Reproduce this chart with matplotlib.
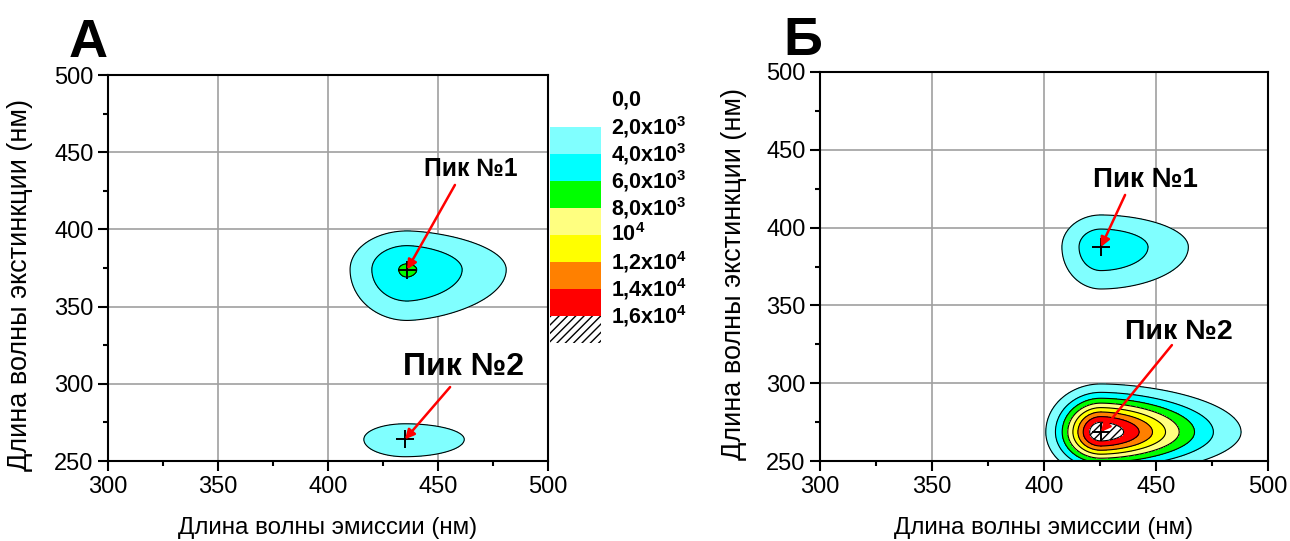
import numpy as np
import matplotlib
matplotlib.use("Agg")
import matplotlib.pyplot as plt
from matplotlib.ticker import MultipleLocator

plt.rcParams['font.family'] = ['Liberation Sans', 'DejaVu Sans']
plt.rcParams['mathtext.fontset'] = 'custom'
plt.rcParams['mathtext.rm'] = 'Liberation Sans:bold'
plt.rcParams['mathtext.bf'] = 'Liberation Sans:bold'
plt.rcParams['mathtext.default'] = 'bf'
plt.rcParams['hatch.linewidth'] = 1.0

# Fluorescence intensity levels and their fill colours
levels = [2000, 4000, 6000, 8000, 10000, 12000, 14000, 16000]
fill_colors = ['#80FFFF', '#00FFFF', '#00FF00', '#FFFF80', '#FFFF00', '#FF8000', '#FF0000', 'white']
scale_labels = ['0,0', '2,0x10$^3$', '4,0x10$^3$', '6,0x10$^3$', '8,0x10$^3$',
                '10$^4$', '1,2x10$^4$', '1,4x10$^4$', '1,6x10$^4$']

# Peak descriptions (emission nm, excitation nm, intensity, widths in nm,
# decay exponent of the long-wavelength emission side)
a_peak_em = [436, 435]
a_peak_ex = [374, 264]
a_peak_int = [6150, 3500]
a_width_left = [24.5, 25.0]
a_width_right = [41.9, 36.0]
a_right_exp = [1.63, 2.0]
a_width_up = [23.6, 13.5]
a_width_down = [31.1, 15.0]

b_peak_em = [425.4, 425.4]
b_peak_ex = [387.5, 268.6]
b_peak_int = [5500, 17500]
b_width_left = [17.3, 16.7]
b_width_right = [38.8, 40.2]
b_right_exp = [1.87, 1.75]
b_width_up = [20.5, 21.0]
b_width_down = [26.8, 19.0]

peak_names = ['Пик №1', 'Пик №2']
a_label_xy = [(465.0, 438.8), (461.4, 310.6)]
a_arrow_from = [(457.7, 428.8), (455.5, 297.9)]
a_label_size = [17.8, 23]
b_label_xy = [(445.5, 430.3), (460.3, 332.6)]
b_arrow_from = [(436.2, 421.0), (457.1, 324.5)]
b_label_size = [20, 20.5]

em = np.linspace(300, 500, 801)
ex = np.linspace(235, 500, 1061)
EM, EX = np.meshgrid(em, ex)


def surface(cx, cy, amp, wl, wr, pr, wu, wd):
    z = np.zeros_like(EM)
    for i in range(len(cx)):
        dx = EM - cx[i]
        dy = EX - cy[i]
        u2 = np.where(dx < 0, (dx / wl[i]) ** 2,
                      np.abs(dx / wr[i]) ** pr[i])
        sy = np.where(dy < 0, wd[i], wu[i])
        z += amp[i] * np.exp(-(u2 + (dy / sy) ** 2))
    return z


def style_axes(ax):
    ax.set_xlim(300, 500)
    ax.set_ylim(250, 500)
    ax.xaxis.set_major_locator(MultipleLocator(50))
    ax.xaxis.set_minor_locator(MultipleLocator(25))
    ax.yaxis.set_major_locator(MultipleLocator(50))
    ax.yaxis.set_minor_locator(MultipleLocator(25))
    ax.grid(True, which='major', color='#a0a0a0', lw=1.2)
    ax.set_axisbelow(True)
    for s in ax.spines.values():
        s.set_linewidth(1.5)
        s.set_zorder(5)
    ax.tick_params(which='major', direction='out', length=7, width=1.5,
                   labelsize=17, pad=3.5)
    ax.tick_params(which='minor', direction='out', length=3.5, width=1.5)
    ax.set_xlabel('Длина волны эмиссии (нм)', fontsize=17.4, labelpad=14)
    ax.set_ylabel('Длина волны экстинкции (нм)', fontsize=19.5)


def draw_map(ax, z, cx, cy, label_xy, arrow_from, sizes):
    ax.contourf(EM, EX, z, levels=levels + [1e9], colors=fill_colors,
                hatches=[None] * 7 + ['////'])
    ax.contour(EM, EX, z, levels=levels, colors='black', linewidths=0.8)
    ax.plot(cx, cy, '+', color='black', ms=13, mew=1.4, zorder=6)
    for i in range(len(cx)):
        ax.annotate('', xy=(cx[i], cy[i]), xytext=arrow_from[i],
                    arrowprops=dict(arrowstyle='-|>', color='red', lw=1.8,
                                    mutation_scale=14, shrinkA=0, shrinkB=0),
                    zorder=7)
        ax.text(label_xy[i][0], label_xy[i][1], peak_names[i], ha='center',
                va='center', fontsize=sizes[i], fontweight='bold', zorder=8)
    style_axes(ax)


fig = plt.figure(figsize=(12.9, 5.41), dpi=100)

ax_a = fig.add_axes([108 / 1290, 80 / 541, 440 / 1290, 386 / 541])
za = surface(a_peak_em, a_peak_ex, a_peak_int, a_width_left, a_width_right,
             a_right_exp, a_width_up, a_width_down)
draw_map(ax_a, za, a_peak_em, a_peak_ex, a_label_xy, a_arrow_from, a_label_size)
ax_a.yaxis.set_label_coords(-75 / 440, 0.455)

ax_b = fig.add_axes([820 / 1290, 80 / 541, 448 / 1290, 389 / 541])
zb = surface(b_peak_em, b_peak_ex, b_peak_int, b_width_left, b_width_right,
             b_right_exp, b_width_up, b_width_down)
draw_map(ax_b, zb, b_peak_em, b_peak_ex, b_label_xy, b_arrow_from, b_label_size)
ax_b.yaxis.set_label_coords(-73 / 448, 0.48)

# Colour scale
ax_s = fig.add_axes([550 / 1290, (541 - 343) / 541, 51 / 1290, 243 / 541])
ax_s.set_xlim(0, 1)
ax_s.set_ylim(9, 0)
ax_s.axis('off')
for i, c in enumerate(fill_colors):
    ax_s.bar(0.5, 1, width=1, bottom=i + 1, color=c, linewidth=0,
             hatch='////' if i == len(fill_colors) - 1 else None, edgecolor='black')
for i, lab in enumerate(scale_labels):
    ax_s.text(1.2, i, lab, transform=ax_s.get_yaxis_transform(), ha='left',
              va='center', fontsize=15.5, fontweight='bold', clip_on=False)

fig.text(88 / 1290, 1 - 57 / 541, 'А', ha='center', va='baseline',
         fontsize=39, fontweight='bold')
fig.text(803 / 1290, 1 - 55 / 541, 'Б', ha='center', va='baseline',
         fontsize=39, fontweight='bold')

fig.savefig('out.png', dpi=100)
